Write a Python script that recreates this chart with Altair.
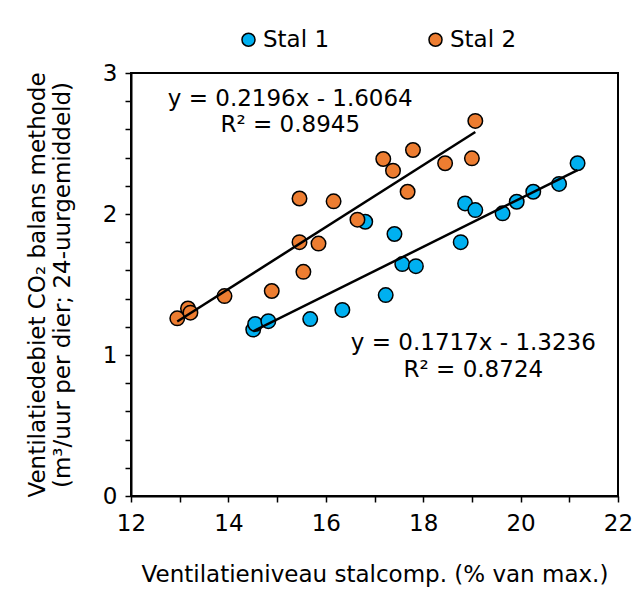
import altair as alt
import pandas as pd

# ---- data ----
series = ["Stal 1", "Stal 2"]
colors = ["#00B0F0", "#ED7D31"]

stal1_x = [14.51, 14.55, 14.82, 15.68, 16.34, 17.23, 17.41, 16.81, 17.57, 17.85,
           18.77, 18.86, 19.07, 19.63, 19.92, 20.26, 20.79, 21.17]
stal1_y = [1.18, 1.22, 1.24, 1.255, 1.32, 1.425, 1.858, 1.945, 1.645, 1.63,
           1.80, 2.075, 2.028, 2.005, 2.087, 2.158, 2.213, 2.36]

stal2_x = [12.95, 13.17, 13.22, 13.92, 14.89, 15.46, 15.46, 15.54, 15.85, 16.16,
           16.65, 17.18, 17.38, 17.79, 17.68, 18.45, 19.00, 19.07]
stal2_y = [1.26, 1.33, 1.30, 1.418, 1.454, 2.11, 1.80, 1.59, 1.79, 2.09,
           1.96, 2.39, 2.307, 2.454, 2.158, 2.36, 2.395, 2.66]

slopes = [0.1717, 0.2196]
intercepts = [-1.3236, -1.6064]
eq_labels = ["y = 0.1717x - 1.3236", "y = 0.2196x - 1.6064"]
r2_labels = ["R² = 0.8724", "R² = 0.8945"]
label_x = [19.03, 15.27]
eq_y = [1.085, 2.813]
r2_y = [0.894, 2.63]

x_ticks = list(range(12, 23))
y_ticks = [i / 5 for i in range(16)]

# ---- tables ----
pts = pd.concat([
    pd.DataFrame({"x": stal1_x, "y": stal1_y, "Stal": series[0]}),
    pd.DataFrame({"x": stal2_x, "y": stal2_y, "Stal": series[1]}),
], ignore_index=True)

trend_rows = []
for s, xs_, m, b in zip(series, [stal1_x, stal2_x], slopes, intercepts):
    for xv in (min(xs_), max(xs_)):
        trend_rows.append({"x": xv, "y": m * xv + b, "Stal": s})
trend = pd.DataFrame(trend_rows)

labels = pd.DataFrame({
    "x": label_x + label_x,
    "y": eq_y + r2_y,
    "text": eq_labels + r2_labels,
})

FONT = "DejaVu Sans"
FS = 23

xs = alt.Scale(domain=[12, 22], nice=False, zero=False)
ys = alt.Scale(domain=[0, 3], nice=False, zero=True)

x_axis = alt.Axis(values=x_ticks, labelExpr="datum.value % 2 == 0 ? datum.label : ''",
                  title="Ventilatieniveau stalcomp. (% van max.)", grid=False,
                  tickSize=6, labelPadding=10, titlePadding=28,
                  labelOverlap=False, labelFlush=False, labelBound=False)
y_axis = alt.Axis(values=y_ticks,
                  labelExpr="abs(datum.value - round(datum.value)) < 0.001 ? '' + round(datum.value) : ''",
                  title=["Ventilatiedebiet CO₂ balans methode", "(m³/uur per dier; 24-uurgemiddeld)"],
                  grid=False, tickSize=6, labelPadding=8, titlePadding=28,
                  labelOverlap=False, labelFlush=False, labelBound=False)

X = alt.X("x:Q", scale=xs, axis=x_axis, title="Ventilatieniveau stalcomp. (% van max.)")
Y = alt.Y("y:Q", scale=ys, axis=y_axis,
          title=["Ventilatiedebiet CO₂ balans methode", "(m³/uur per dier; 24-uurgemiddeld)"])

points = alt.Chart(pts).mark_circle(size=210, opacity=1, stroke="black", strokeWidth=1.5).encode(
    x=X,
    y=Y,
    color=alt.Color("Stal:N", scale=alt.Scale(domain=series, range=colors),
                    legend=alt.Legend(title=None, orient="none", direction="horizontal",
                                      legendX=106, legendY=-45, symbolType="circle",
                                      symbolSize=170, symbolStrokeColor="black",
                                      symbolStrokeWidth=1.5, labelFontSize=FS,
                                      labelFont=FONT, columnPadding=94, labelOffset=3,
                                      symbolOpacity=1)),
    order=alt.Order("Stal:N"),
)

lines = alt.Chart(trend).mark_line(color="black", strokeWidth=2.5).encode(
    x=X,
    y=Y,
    detail="Stal:N",
)

texts = alt.Chart(labels).mark_text(font=FONT, fontSize=FS, color="black").encode(
    x=X,
    y=Y,
    text="text:N",
)

chart = alt.layer(points, lines, texts).properties(
    width=487, height=423,
    autosize=alt.AutoSizeParams(type="none"),
    padding={"left": 123, "top": 65, "right": 14, "bottom": 93},
).configure_view(stroke="black", strokeWidth=2).configure_axis(
    labelFont=FONT, titleFont=FONT, labelFontSize=FS, titleFontSize=FS,
    labelColor="black", titleColor="black", titleFontWeight="normal",
    domainColor="black", domainWidth=2, tickColor="black", tickWidth=1.5,
)

chart.save("out.html", embed_options={"renderer": "svg", "actions": False})
